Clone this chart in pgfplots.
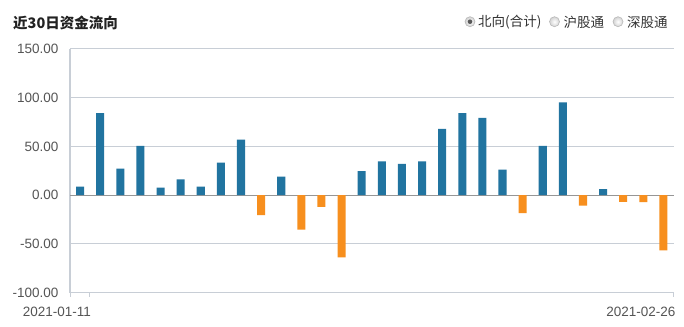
\documentclass[border=0pt]{standalone}
\usepackage{fontspec}
\setmainfont{Liberation Sans}
\newfontfamily\cjk{Noto Sans CJK SC}
\usepackage{pgfplots}
\pgfplotsset{compat=1.18}
\definecolor{barblue}{RGB}{33,116,160}
\definecolor{barorange}{RGB}{247,143,30}
\definecolor{gridc}{RGB}{200,206,214}
\definecolor{labc}{RGB}{85,85,85}
\definecolor{zeroc}{RGB}{150,150,150}
\begin{document}
\begin{tikzpicture}[x=1bp,y=1bp]
\useasboundingbox[fill=white] (0,0) rectangle (684,326);
\node[anchor=west, inner sep=0pt, font=\cjk\bfseries\fontsize{14.5bp}{17bp}\selectfont, text={rgb,255:red,34;green,34;blue,34}] at (13,303.5) {近30日资金流向};
\foreach \cx in {470,554.5,618}{
  \shade[inner color=white, outer color=gray!35, draw=gray!55, line width=0.6bp] (\cx,304.3) circle (5);
}
\fill[gray!70!black] (470,304.3) circle (2.3);
\begin{scope}[every node/.style={anchor=west, inner sep=0pt, font=\cjk\fontsize{13.5bp}{16bp}\selectfont, text={rgb,255:red,51;green,51;blue,51}}]
\node at (478,304) {北向(合计)};
\node at (563.5,304) {沪股通};
\node at (627,304) {深股通};
\end{scope}
\begin{axis}[
  at={(70bp,33.5bp)}, anchor=south west,
  width=603.5bp, height=243.5bp, scale only axis,
  xmin=-0.5, xmax=29.5, ymin=-100, ymax=150,
  axis x line*=bottom, axis y line*=left,
  axis line style={draw=gridc, line width=1.3bp, -},
  ytick={-100,-50,0,50,100,150},
  yticklabels={-100.00,-50.00,0.00,50.00,100.00,150.00},
  xtick={-0.5,0.45,29.5},
  xticklabels={,2021-01-11,2021-02-26},
  tick align=outside, major tick length=4bp,
  xtick style={draw=gridc, line width=1bp},
  ytick style={draw=none},
  ymajorgrids, grid style={draw=gridc, line width=1bp},
  tick label style={font=\fontsize{13.5bp}{16bp}\selectfont, text=labc},
  yticklabel style={anchor=east, inner sep=0pt, xshift=-7.5bp},
  xticklabel style={anchor=north east, inner sep=0pt, xshift=2bp, yshift=-10bp},
  extra y ticks={0}, extra y tick labels={},
  extra y tick style={grid style={draw=zeroc, line width=1bp}},
  clip=false,
]
\addplot[ybar, bar width=0.4, bar shift=0pt, fill=barblue, draw=none] coordinates {
(0,8.6) (1,84.2) (2,27.1) (3,50.5) (4,7.6) (5,16.2) (6,8.6) (7,33.3) (8,57.0)
(10,18.9) (14,24.7) (15,34.7) (16,32.0) (17,34.7) (18,68.0) (19,84.2) (20,79.4)
(21,26.1) (23,50.5) (24,95.2) (26,6.2)};
\addplot[ybar, bar width=0.4, bar shift=0pt, fill=barorange, draw=none] coordinates {
(9,-20.6) (11,-35.4) (12,-12.0) (13,-63.9) (22,-18.6) (25,-10.7) (27,-6.9) (28,-7.2) (29,-56.7)};
\end{axis}
\end{tikzpicture}
\end{document}
